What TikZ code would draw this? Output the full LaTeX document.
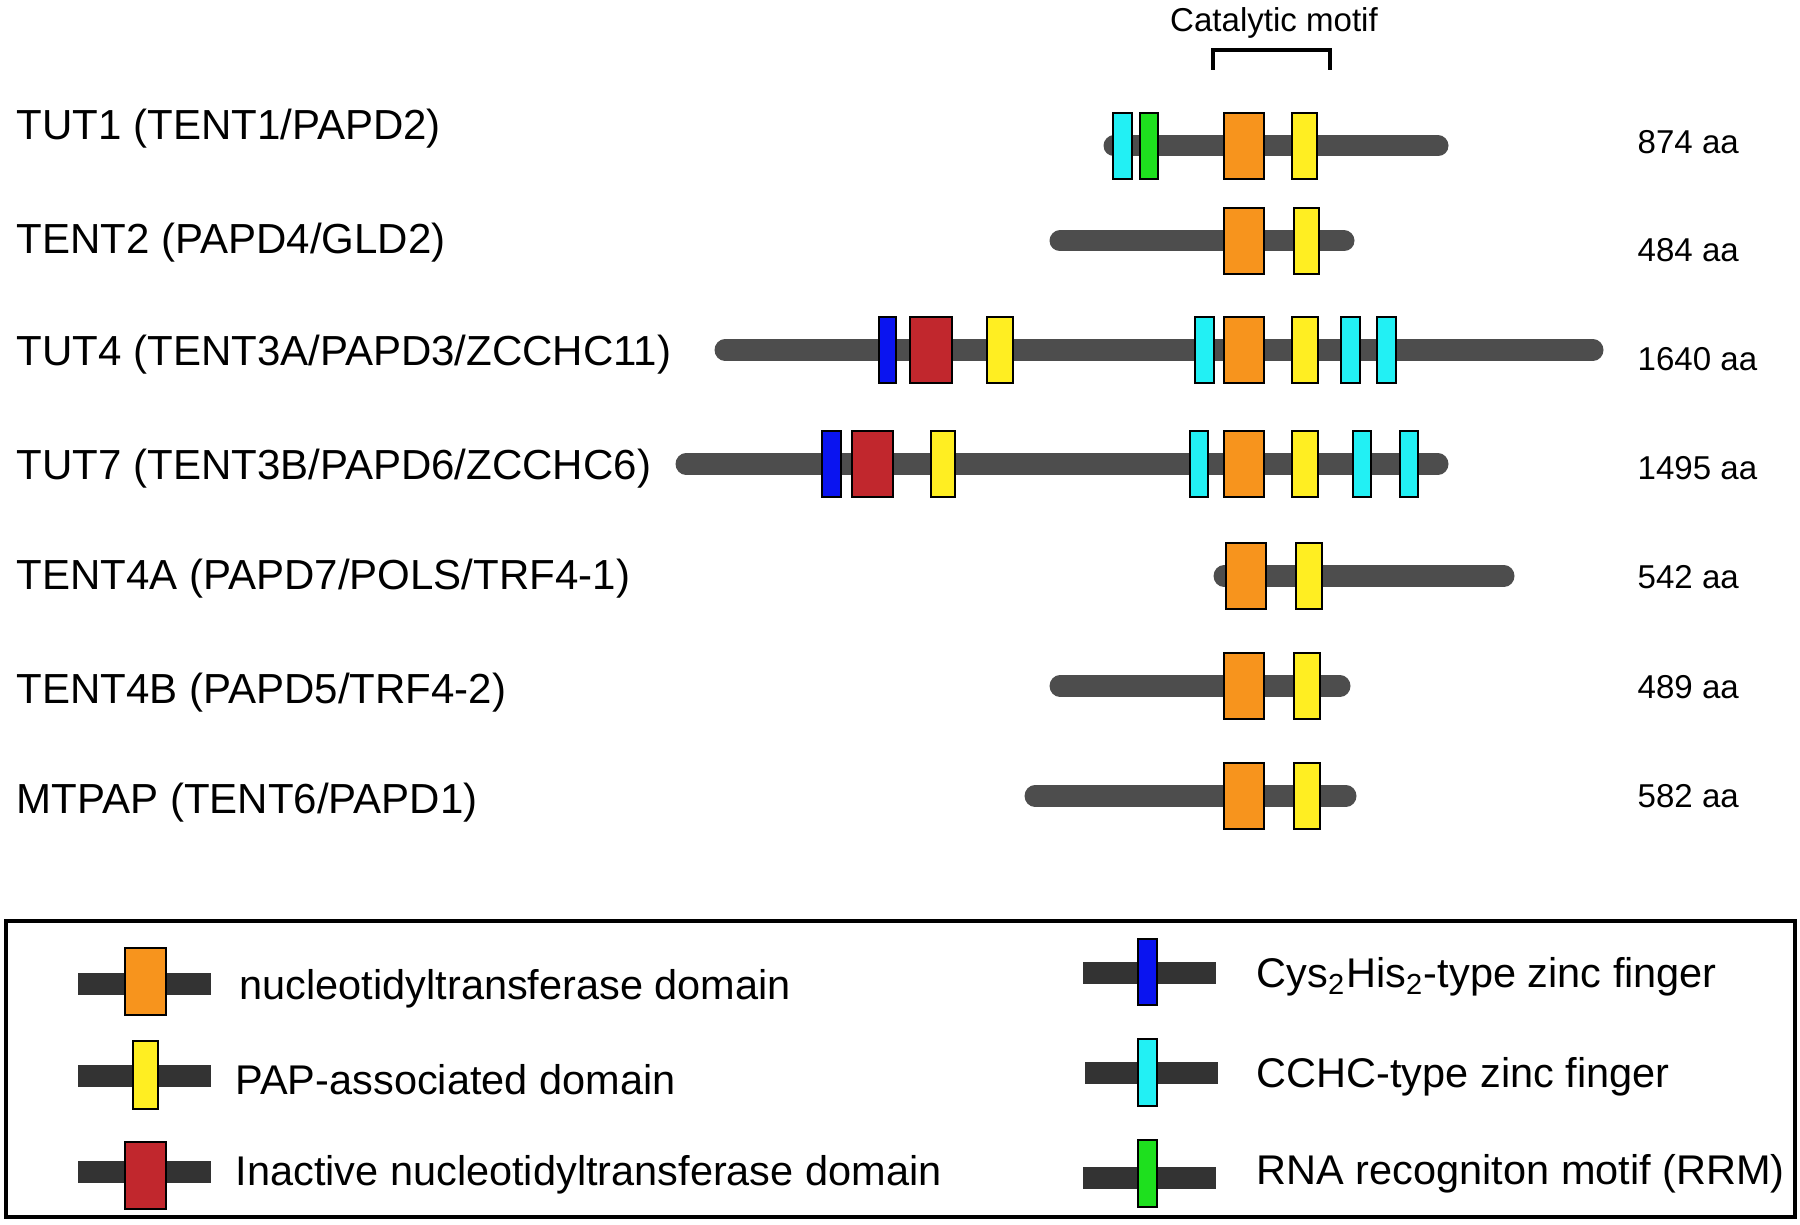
\documentclass[tikz,border=0pt]{standalone}
\usepackage{fontspec}
\setmainfont{Liberation Sans}
\usepackage{tikz}

\definecolor{barcol}{HTML}{4D4D4D}
\definecolor{legbar}{HTML}{333333}
\definecolor{ntcol}{HTML}{F7941D}
\definecolor{papcol}{HTML}{FFEE22}
\definecolor{inactcol}{HTML}{C1272D}
\definecolor{chcol}{HTML}{0A14F0}
\definecolor{cchccol}{HTML}{22F0F4}
\definecolor{rrmcol}{HTML}{1EE01E}

\tikzset{
  protbar/.style={barcol, line width=0.21cm, line cap=round},
  legendbar/.style={legbar, line width=0.22cm},
  dombox/.style={draw=black, line width=0.6pt},
  namelabel/.style={anchor=west, inner sep=0pt, font=\fontsize{11.95}{14}\selectfont},
  legendlabel/.style={anchor=west, inner sep=0pt, font=\fontsize{11.8}{14}\selectfont},
  aalabel/.style={anchor=west, inner sep=0pt, font=\fontsize{9.4}{11}\selectfont},
}

% a domain box: colour, left, right, centre line of the protein
\newcommand{\domain}[4]{\draw[dombox, fill=#1] (#2,#4-33) rectangle (#3,#4+33);}

\begin{document}
\begin{tikzpicture}[x=0.01cm, y=-0.01cm]
\useasboundingbox (0,0) rectangle (1800,1225);

% catalytic motif
\node (cat) at (1274,23) [font=\fontsize{9.4}{11}\selectfont, inner sep=0pt] {Catalytic motif};
\draw[line width=0.9pt] (1213,70) -- (1213,50) -- (1330,50) -- (1330,70);

% TUT1
\node[namelabel] (tut1) at (16,129) {TUT1 (TENT1/PAPD2)};
\draw[protbar] (1114,146) -- (1438,146);
\domain{cchccol}{1113}{1132}{146}
\domain{rrmcol}{1140}{1158}{146}
\domain{ntcol}{1224}{1264}{146}
\domain{papcol}{1292}{1317}{146}
\node[aalabel] (aa1) at (1637,142) {874 aa};

% TENT2
\node[namelabel] (tent2) at (16,243) {TENT2 (PAPD4/GLD2)};
\draw[protbar] (1060,241) -- (1344,241);
\domain{ntcol}{1224}{1264}{241}
\domain{papcol}{1294}{1319}{241}
\node[aalabel] (aa2) at (1637,250) {484 aa};

% TUT4
\node[namelabel] (tut4) at (16,355) {TUT4 (TENT3A/PAPD3/ZCCHC11)};
\draw[protbar] (725,350) -- (1593,350);
\domain{chcol}{879}{896}{350}
\domain{inactcol}{910}{952}{350}
\domain{papcol}{987}{1013}{350}
\domain{cchccol}{1195}{1214}{350}
\domain{ntcol}{1224}{1264}{350}
\domain{papcol}{1292}{1318}{350}
\domain{cchccol}{1341}{1360}{350}
\domain{cchccol}{1377}{1396}{350}
\node[aalabel] (aa3) at (1637,359) {1640 aa};

% TUT7
\node[namelabel] (tut7) at (16,469) {TUT7 (TENT3B/PAPD6/ZCCHC6)};
\draw[protbar] (686,464) -- (1438,464);
\domain{chcol}{822}{841}{464}
\domain{inactcol}{852}{893}{464}
\domain{papcol}{931}{955}{464}
\domain{cchccol}{1190}{1208}{464}
\domain{ntcol}{1224}{1264}{464}
\domain{papcol}{1292}{1318}{464}
\domain{cchccol}{1353}{1371}{464}
\domain{cchccol}{1400}{1418}{464}
\node[aalabel] (aa4) at (1637,468) {1495 aa};

% TENT4A
\node[namelabel] (tent4a) at (16,579) {TENT4A (PAPD7/POLS/TRF4-1)};
\draw[protbar] (1224,576) -- (1504,576);
\domain{ntcol}{1226}{1266}{576}
\domain{papcol}{1296}{1322}{576}
\node[aalabel] (aa5) at (1637,577) {542 aa};

% TENT4B
\node[namelabel] (tent4b) at (16,693) {TENT4B (PAPD5/TRF4-2)};
\draw[protbar] (1060,686) -- (1340,686);
\domain{ntcol}{1224}{1264}{686}
\domain{papcol}{1294}{1320}{686}
\node[aalabel] (aa6) at (1637,687) {489 aa};

% MTPAP
\node[namelabel] (mtpap) at (16,803) {MTPAP (TENT6/PAPD1)};
\draw[protbar] (1035,796) -- (1346,796);
\domain{ntcol}{1224}{1264}{796}
\domain{papcol}{1294}{1320}{796}
\node[aalabel] (aa7) at (1637,796) {582 aa};

% legend
\draw[line width=1pt] (6,921) rectangle (1795,1217);

\draw[legendbar] (78,984) -- (211,984);
\draw[dombox, fill=ntcol] (125,948) rectangle (166,1015);
\node[legendlabel] (lnt) at (239,989) {nucleotidyltransferase domain};

\draw[legendbar] (78,1076) -- (211,1076);
\draw[dombox, fill=papcol] (133,1041) rectangle (158,1109);
\node[legendlabel] (lpap) at (235,1080) {PAP-associated domain};

\draw[legendbar] (78,1172) -- (211,1172);
\draw[dombox, fill=inactcol] (125,1142) rectangle (166,1209);
\node[legendlabel] (linact) at (235,1175) {Inactive nucleotidyltransferase domain};

\draw[legendbar] (1083,973) -- (1216,973);
\draw[dombox, fill=chcol] (1138,939) rectangle (1157,1005);
\node[legendlabel] (lch) at (1256,977) {Cys\textsubscript{2}His\textsubscript{2}-type zinc finger};

\draw[legendbar] (1085,1073) -- (1218,1073);
\draw[dombox, fill=cchccol] (1138,1039) rectangle (1157,1106);
\node[legendlabel] (lcchc) at (1256,1077) {CCHC-type zinc finger};

\draw[legendbar] (1083,1178) -- (1216,1178);
\draw[dombox, fill=rrmcol] (1138,1140) rectangle (1157,1207);
\node[legendlabel] (lrrm) at (1256,1174) {RNA recogniton motif (RRM)};
\end{tikzpicture}
\end{document}
